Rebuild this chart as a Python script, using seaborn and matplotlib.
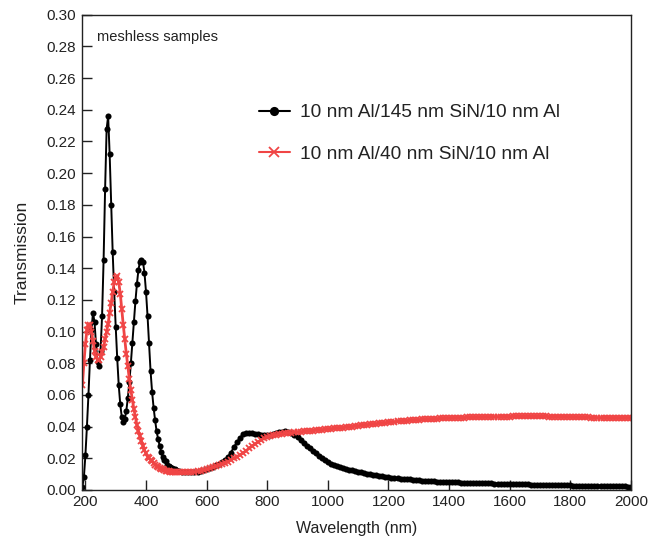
import numpy as np
import pandas as pd
import matplotlib
matplotlib.use("Agg")
import matplotlib.pyplot as plt
import seaborn as sns
from matplotlib.ticker import MultipleLocator, FormatStrFormatter

# wavelength sampling grid (nm)
wavelength = np.concatenate([np.arange(190, 501, 5), np.arange(510, 2001, 10)])

# 10 nm Al / 145 nm SiN / 10 nm Al
trans_145 = [
    0.002, 0.008, 0.022, 0.040, 0.060, 0.082, 0.101, 0.112, 0.106, 0.092, 0.081, 0.078,
    0.088, 0.110, 0.145, 0.190, 0.228, 0.236, 0.212, 0.180, 0.150, 0.125,
    0.103, 0.083, 0.066, 0.054, 0.046, 0.043, 0.045, 0.050, 0.058, 0.068,
    0.080, 0.093, 0.106, 0.119, 0.130, 0.139, 0.144, 0.145, 0.144, 0.137,
    0.125, 0.110, 0.093, 0.075, 0.062, 0.052, 0.044, 0.037, 0.032, 0.028,
    0.024, 0.021, 0.019, 0.018, 0.016, 0.015, 0.0145, 0.014, 0.0135, 0.013,
    0.0125,
    0.012, 0.0115, 0.0112, 0.011, 0.011, 0.011, 0.0113, 0.0117, 0.0123, 0.013,
    0.0138, 0.0146, 0.0155, 0.0165, 0.0177, 0.019, 0.0208, 0.0235, 0.027, 0.030,
    0.033, 0.035, 0.0358, 0.036, 0.0358, 0.0355, 0.0352, 0.0349, 0.0347, 0.0346,
    0.0349, 0.0354, 0.036, 0.0365, 0.0368, 0.037, 0.0368, 0.036, 0.0348, 0.0333,
    0.0316, 0.0298, 0.028, 0.0262, 0.0245, 0.023, 0.0215, 0.0201, 0.0188, 0.0176,
    0.0166, 0.0156, 0.0149, 0.0142, 0.0137, 0.0132, 0.0128, 0.0124, 0.0120, 0.0116,
    0.0111, 0.0107, 0.0103, 0.0099, 0.0095, 0.0092, 0.0089, 0.0086, 0.0083, 0.0081,
    0.0078, 0.0076, 0.0074, 0.0072, 0.0070, 0.0068, 0.0066, 0.0064, 0.0062, 0.0061,
    0.0059, 0.0058, 0.0056, 0.0055, 0.0054, 0.0053, 0.0052, 0.0051, 0.0050, 0.0049,
    0.0048, 0.0047, 0.0047, 0.0046, 0.0045, 0.0045, 0.0044, 0.0044, 0.0043, 0.0043,
    0.0042, 0.0042, 0.0041, 0.0041, 0.0040, 0.0040, 0.0039, 0.0039, 0.0038, 0.0038,
    0.0037, 0.0037, 0.0036, 0.0036, 0.0035, 0.0035, 0.0034, 0.0034, 0.0033, 0.0033,
    0.0032, 0.0032, 0.0031, 0.0031, 0.0030, 0.0030, 0.0029, 0.0029, 0.0028, 0.0028,
    0.0027, 0.0027, 0.0026, 0.0026, 0.0025, 0.0025, 0.0025, 0.0025, 0.0024, 0.0024,
    0.0023, 0.0023, 0.0023, 0.0023, 0.0022, 0.0022, 0.0022, 0.0022, 0.0021, 0.0021,
]

# 10 nm Al / 40 nm SiN / 10 nm Al
trans_40 = [
    0.066, 0.080, 0.092, 0.101, 0.104, 0.104, 0.100, 0.094, 0.088, 0.084, 0.082, 0.082,
    0.084, 0.087, 0.090, 0.095, 0.100, 0.105, 0.112, 0.118, 0.125, 0.131,
    0.134, 0.135, 0.131, 0.124, 0.114, 0.104, 0.095, 0.086, 0.078, 0.070,
    0.063, 0.057, 0.051, 0.046, 0.041, 0.037, 0.034, 0.031, 0.028, 0.025,
    0.023, 0.021, 0.020, 0.019, 0.018, 0.017, 0.016, 0.0153, 0.0146, 0.014,
    0.0135, 0.013, 0.0126, 0.0122, 0.012, 0.0117, 0.0115, 0.0113, 0.0112, 0.0111,
    0.011,
    0.011, 0.011, 0.011, 0.0111, 0.0113, 0.0115, 0.0118, 0.0122, 0.0126, 0.0131,
    0.0136, 0.0142, 0.0148, 0.0155, 0.0162, 0.017, 0.0179, 0.0189, 0.0199, 0.021,
    0.0221, 0.0233, 0.0247, 0.0262, 0.0276, 0.029, 0.0303, 0.0315, 0.0325, 0.0333,
    0.0339, 0.0344, 0.0348, 0.0351, 0.0354, 0.0357, 0.0359, 0.0361, 0.0363, 0.0365,
    0.0367, 0.0369, 0.0371, 0.0373, 0.0375, 0.0377, 0.0379, 0.038, 0.0382, 0.0384,
    0.0386, 0.0388, 0.0390, 0.0392, 0.0394, 0.0396, 0.0398, 0.0400, 0.0403, 0.0405,
    0.0408, 0.0410, 0.0412, 0.0414, 0.0416, 0.0418, 0.0420, 0.0422, 0.0424, 0.0426,
    0.0428, 0.0430, 0.0432, 0.0434, 0.0436, 0.0437, 0.0439, 0.0440, 0.0442, 0.0443,
    0.0445, 0.0446, 0.0447, 0.0448, 0.0449, 0.0450, 0.0451, 0.0452, 0.0453, 0.0454,
    0.0455, 0.0455, 0.0456, 0.0457, 0.0457, 0.0458, 0.0458, 0.0459, 0.0459, 0.0460,
    0.0460, 0.0461, 0.0461, 0.0462, 0.0462, 0.0462, 0.0463, 0.0463, 0.0463, 0.0463,
    0.0464, 0.0464, 0.0464, 0.0464, 0.0464, 0.0464, 0.0464, 0.0464, 0.0464, 0.0464,
    0.0464, 0.0464, 0.0463, 0.0463, 0.0463, 0.0463, 0.0462, 0.0462, 0.0461, 0.0461,
    0.0460, 0.0460, 0.0459, 0.0459, 0.0458, 0.0458, 0.0457, 0.0457, 0.0456, 0.0456,
    0.0456, 0.0456, 0.0455, 0.0455, 0.0455, 0.0455, 0.0455, 0.0455, 0.0455, 0.0455,
]

label_145 = "10 nm Al/145 nm SiN/10 nm Al"
label_40 = "10 nm Al/40 nm SiN/10 nm Al"

sns.set_theme(style="ticks")
plt.rcParams["font.family"] = ["Liberation Sans", "DejaVu Sans"]

fig = plt.figure(figsize=(6.49, 5.48), dpi=100)
ax = fig.add_axes([0.126, 0.106, 0.846, 0.867])

red = "#f04545"
sns.lineplot(x=wavelength, y=trans_145, ax=ax, color="black", lw=1.4,
             marker="o", markersize=4.4, markeredgewidth=0, label=label_145,
             sort=False, estimator=None)
sns.lineplot(x=wavelength, y=trans_40, ax=ax, color=red, lw=2.0,
             marker="x", markersize=5, markeredgewidth=1.3, markeredgecolor=red,
             label=label_40, sort=False, estimator=None)

ax.set_xlim(188, 2000)
ax.set_ylim(0, 0.30)
ax.xaxis.set_major_locator(MultipleLocator(200))
ax.yaxis.set_major_locator(MultipleLocator(0.02))
ax.yaxis.set_major_formatter(FormatStrFormatter("%.2f"))
ax.tick_params(direction="in", length=7, width=1.0, labelsize=11, colors="#222222",
               top=False, right=False, pad=4)
for s in ax.spines.values():
    s.set_linewidth(1.0)
    s.set_color("#222222")

ax.set_xlabel("Wavelength (nm)", fontsize=11.5, color="#222222", labelpad=8)
ax.set_ylabel("Transmission", fontsize=12.5, color="#222222", labelpad=12)

ax.text(0.028, 0.954, "meshless samples", transform=ax.transAxes,
        fontsize=10.5, va="center", ha="left", color="#222222")

leg = ax.legend(loc="upper left", bbox_to_anchor=(259 / 649, 1 - 104 / 548),
                bbox_transform=fig.transFigure, frameon=False, fontsize=13.8,
                handlelength=1.6, handletextpad=0.55, labelspacing=1.25,
                borderpad=0, borderaxespad=0, markerscale=1.5)
for t in leg.get_texts():
    t.set_color("#222222")
for h in leg.get_lines():
    h.set_linewidth(1.5)

fig.savefig("out.png", dpi=100)
